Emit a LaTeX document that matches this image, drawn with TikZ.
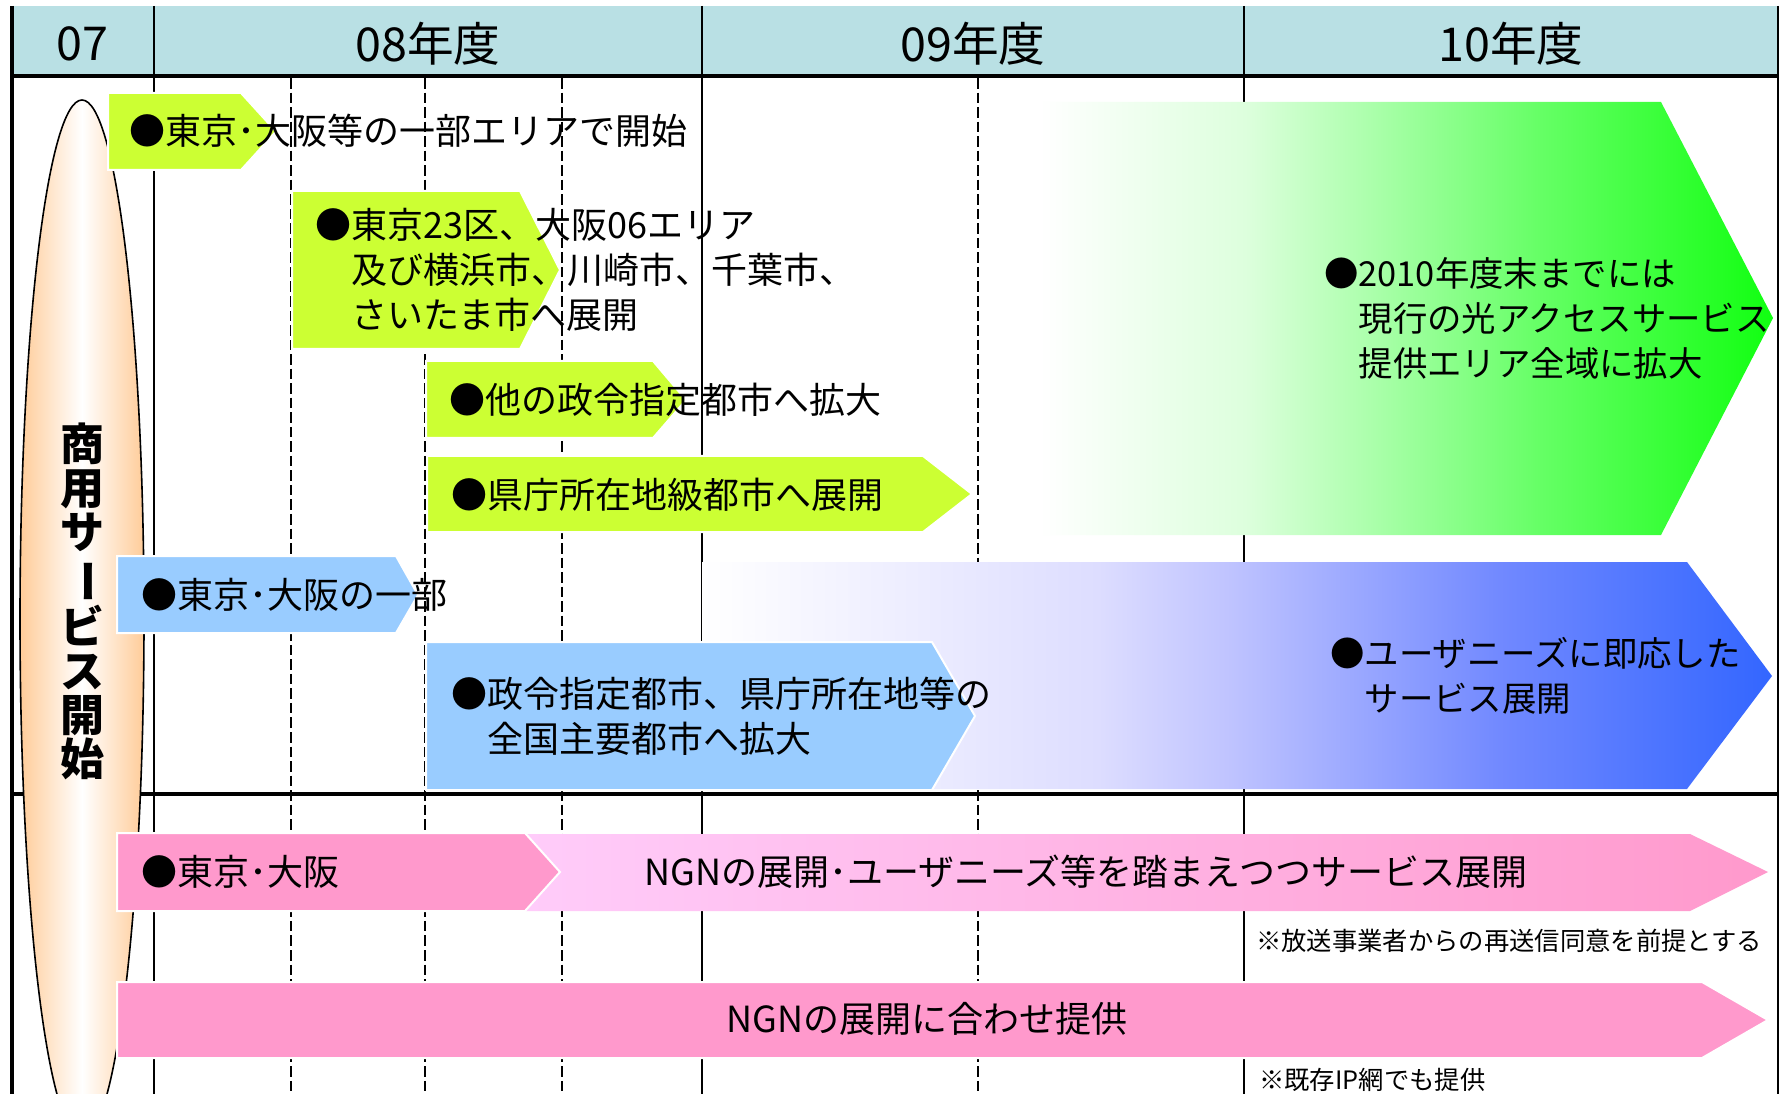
\documentclass[tikz,border=0pt]{standalone}
\usepackage{fontspec}
\usepackage{graphicx}
\setmainfont{Noto Sans CJK JP}
\definecolor{hdr}{RGB}{185,224,228}
\definecolor{lime}{RGB}{204,255,51}
\definecolor{sky}{RGB}{153,204,255}
\definecolor{pinkA}{RGB}{255,153,204}
\definecolor{peach}{RGB}{255,204,153}
\definecolor{g1}{RGB}{221,255,221}
\definecolor{g2}{RGB}{160,255,160}
\definecolor{g3}{RGB}{102,255,102}
\definecolor{g4}{RGB}{17,255,17}
\definecolor{b1}{RGB}{221,221,255}
\definecolor{b2}{RGB}{192,196,255}
\definecolor{b3}{RGB}{112,136,255}
\definecolor{b4}{RGB}{51,102,255}
\definecolor{p0}{RGB}{255,204,250}
\definecolor{p1}{RGB}{255,153,204}
\pgfdeclarehorizontalshading{greenfade}{100bp}{color(0bp)=(white); color(25bp)=(white); color(39bp)=(g1); color(49.5bp)=(g2); color(59bp)=(g3); color(75bp)=(g4); color(100bp)=(g4)}
\pgfdeclarehorizontalshading{bluefade}{100bp}{color(0bp)=(white); color(25bp)=(white); color(43.5bp)=(b1); color(49.5bp)=(b2); color(62.5bp)=(b3); color(75bp)=(b4); color(100bp)=(b4)}
\pgfdeclarehorizontalshading{pinkfade}{100bp}{color(0bp)=(p0); color(25bp)=(p0); color(75bp)=(p1); color(100bp)=(p1)}
\begin{document}
\begin{tikzpicture}[x=0.75pt,y=-0.75pt,
  thinline/.style={line width=1.6pt},
  thickline/.style={line width=2.6pt},
  dashline/.style={line width=1.6pt,dash pattern=on 7.9pt off 3pt},
  box/.style={draw=white,line width=1.5pt},
  txt/.style={font=\fontsize{27pt}{33.75pt}\selectfont,anchor=west,align=left,inner sep=0pt},
  stxt/.style={font=\fontsize{25.8pt}{33.75pt}\selectfont,anchor=west,align=left,inner sep=0pt},
  ctxt/.style={font=\fontsize{27pt}{33.75pt}\selectfont,inner sep=0pt},
  hd/.style={font=\fontsize{35pt}{38pt}\selectfont,inner sep=0pt},
  fn/.style={font=\fontsize{19pt}{22pt}\selectfont,anchor=west,inner sep=0pt},
  vtitle/.style={font=\fontsize{33pt}{33pt}\selectfont\bfseries,align=center,inner sep=0pt}]
\useasboundingbox (0,0) rectangle (1781,1094);
\clip (0,0) rectangle (1781,1094);
\fill[white] (0,0) rectangle (1781,1094);
% header
\fill[hdr] (12,6) rectangle (1778,76);
% grid lines
\foreach \x in {154,702,1244} \draw[thinline] (\x,6) -- (\x,1094);
\foreach \x in {291,425,562,978} \draw[dashline] (\x,78) -- (\x,1094);
\draw[thinline] (1778,6) -- (1778,1094);
\draw[thickline] (12,76) -- (1778,76);
\draw[thickline] (12,794) -- (1778,794);
\draw[line width=3.2pt] (12,6) -- (12,1094);
% ellipse
\shade[left color=peach,right color=peach,middle color=white,draw=black,line width=1.2pt] (82,619) ellipse [x radius=62,y radius=519];
% gradient arrows
\shade[shading=greenfade] (1040,102) -- (1661,102) -- (1773,318) -- (1661,535) -- (1040,535) -- cycle;
\shade[shading=bluefade] (702,562) -- (1687,562) -- (1772,676) -- (1687,789) -- (702,789) -- cycle;
\shade[shading=pinkfade] (525,834) -- (1690,834) -- (1768,872) -- (1690,911) -- (525,911) -- (560,872) -- cycle;
% boxes
\fill[lime,box] (108,93) -- (241,93) -- (276,131.5) -- (241,170) -- (108,170) -- cycle;
\fill[lime,box] (292,191) -- (520,191) -- (560,270) -- (520,349) -- (292,349) -- cycle;
\fill[lime,box] (426,361) -- (653,361) -- (686,400) -- (653,438) -- (426,438) -- cycle;
\fill[lime,box] (427,456) -- (923,456) -- (972,494) -- (923,532) -- (427,532) -- cycle;
\fill[sky,box] (117,556) -- (396,556) -- (418,595) -- (396,633) -- (117,633) -- cycle;
\fill[sky,box] (426,642) -- (932,642) -- (975,716) -- (932,790) -- (426,790) -- cycle;
\fill[pinkA,box] (117,833) -- (525,833) -- (560,872) -- (525,911) -- (117,911) -- cycle;
\fill[pinkA,box] (117,982) -- (1702,982) -- (1768,1020) -- (1702,1058) -- (117,1058) -- cycle;
% header texts
\node[hd] (h07) at (82,44) {07};
\node[hd] (h08) at (428,44) {08年度};
\node[hd] (h09) at (973,44) {09年度};
\node[hd] (h10) at (1511,44) {10年度};
% vertical title
\node[vtitle] (title) at (82,601) {商\\用\\サ\\\rotatebox[origin=c]{-90}{ー}\\ビ\\ス\\開\\始};
% texts
\node[txt] (t1) at (129,131) {●東京･大阪等の一部エリアで開始};
\node[txt] (t2) at (315,270) {●東京23区、大阪06エリア\\\phantom{●}及び横浜市、川崎市、千葉市、\\\phantom{●}さいたま市へ展開};
\node[txt] (t3) at (449,400) {●他の政令指定都市へ拡大};
\node[txt] (t4) at (451,495) {●県庁所在地級都市へ展開};
\node[stxt] (t5) at (1324,318) {●2010年度末までには\\\phantom{●}現行の光アクセスサービス\\\phantom{●}提供エリア全域に拡大};
\node[txt] (t6) at (141,595) {●東京･大阪の一部};
\node[txt] (t7) at (451,716) {●政令指定都市、県庁所在地等の\\\phantom{●}全国主要都市へ拡大};
\node[stxt] (t8) at (1330,676) {●ユーザニーズに即応した\\\phantom{●}サービス展開};
\node[txt] (t9) at (141,872) {●東京･大阪};
\node[ctxt] (t10) at (1086,872) {NGNの展開･ユーザニーズ等を踏まえつつサービス展開};
\node[ctxt] (t11) at (927,1019) {NGNの展開に合わせ提供};
\node[fn] (n1) at (1256,941) {※放送事業者からの再送信同意を前提とする};
\node[fn] (n2) at (1259,1080) {※既存IP網でも提供};
\end{tikzpicture}
\end{document}
